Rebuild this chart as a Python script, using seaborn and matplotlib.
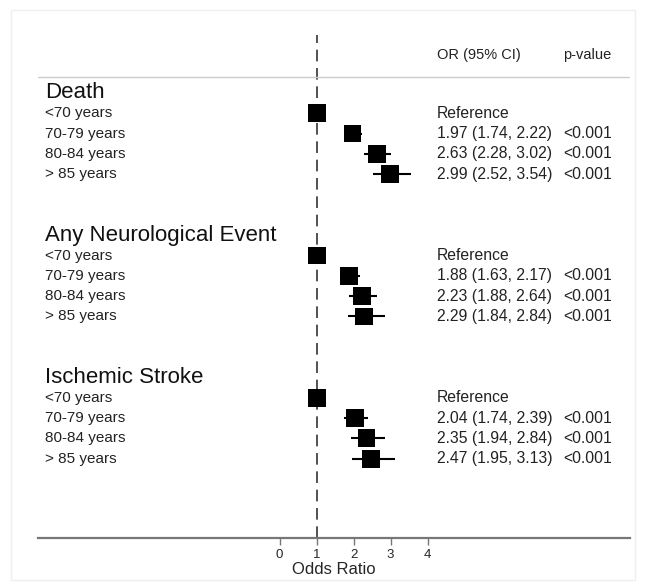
import pandas as pd
import seaborn as sns
import matplotlib.pyplot as plt
from matplotlib.patches import Rectangle

# outcome groups and age bands
groups = ["Death", "Any Neurological Event", "Ischemic Stroke"]
ages = ["<70 years", "70-79 years", "80-84 years", "> 85 years"]

# odds ratios with 95% CI (first row of each group is the reference)
or_vals = [[1.00, 1.97, 2.63, 2.99],
           [1.00, 1.88, 2.23, 2.29],
           [1.00, 2.04, 2.35, 2.47]]
ci_low = [[None, 1.74, 2.28, 2.52],
          [None, 1.63, 1.88, 1.84],
          [None, 1.74, 1.94, 1.95]]
ci_high = [[None, 2.22, 3.02, 3.54],
           [None, 2.17, 2.64, 2.84],
           [None, 2.39, 2.84, 3.13]]
p_vals = [[None, "<0.001", "<0.001", "<0.001"],
          [None, "<0.001", "<0.001", "<0.001"],
          [None, "<0.001", "<0.001", "<0.001"]]
x_ticks = [0, 1, 2, 3, 4]

# build long table, one row per plotted line
rows = []
pos = 0
for g, grp in enumerate(groups):
    rows.append(dict(row=pos, label=grp, kind="title"))
    for a, age in enumerate(ages):
        rows.append(dict(row=pos + 1 + a, label=age, kind="item",
                         OR=or_vals[g][a], lo=ci_low[g][a], hi=ci_high[g][a],
                         p=p_vals[g][a]))
    pos += 7
df = pd.DataFrame(rows)
items = df[df["kind"] == "item"]
cis = items.dropna(subset=["lo"])

sns.set_style("white")
plt.rcParams["font.family"] = ["Liberation Sans", "DejaVu Sans"]

fig = plt.figure(figsize=(6.45, 5.88), dpi=100)
fig.patches.append(Rectangle((11 / 645, 8 / 588), 624 / 645, 570 / 588,
                             transform=fig.transFigure, fill=False,
                             edgecolor="#efefef", lw=1))
ax = fig.add_axes([38 / 645, 50 / 588, 592 / 645, 503 / 588])

ax.hlines(cis["row"], cis["lo"], cis["hi"], color="black", lw=1.5, zorder=2)
sns.scatterplot(data=items, x="OR", y="row", marker="s", s=165,
                color="black", edgecolor="none", ax=ax, zorder=3)
ax.axvline(1, color="#333333", lw=1.2, ls=(0, (7, 4)), zorder=1)

ax.set_xlim(-6.53, 9.47)
ax.set_ylim(21.9, -2.85)

txt_col = "#222222"
col_or = 4.26
col_p = 7.66

# header
ax.text(col_or, -1.85, "OR (95% CI)", fontsize=10.5, va="center", color=txt_col)
ax.text(col_p, -1.85, "p-value", fontsize=10.5, va="center", color=txt_col)
ax.axhline(-0.8, color="#cccccc", lw=1)

for _, r in df.iterrows():
    if r["kind"] == "title":
        ax.text(-6.35, r["row"], r["label"], fontsize=16, va="center",
                color="#111111")
        continue
    ax.text(-6.35, r["row"], r["label"], fontsize=11, va="center",
            color=txt_col)
    if pd.isna(r["lo"]):
        ax.text(col_or, r["row"], "Reference", fontsize=11.3, va="center",
                color=txt_col)
    else:
        txt = f"{r['OR']:.2f} ({r['lo']:.2f}, {r['hi']:.2f})"
        ax.text(col_or, r["row"], txt, fontsize=11.3, va="center",
                color=txt_col)
        ax.text(col_p, r["row"], r["p"], fontsize=11.3, va="center",
                color=txt_col)

ax.set_yticks([])
ax.set_ylabel("")
ax.set_xticks(x_ticks)
ax.tick_params(axis="x", bottom=True, length=5, width=1, color="#777777",
               labelsize=9.5, pad=3)
ax.set_xlabel("Odds Ratio", fontsize=12, labelpad=1)
for s in ["top", "left", "right"]:
    ax.spines[s].set_visible(False)
ax.spines["bottom"].set_color("#777777")
ax.spines["bottom"].set_linewidth(1.6)

fig.savefig("out.png", dpi=100)
